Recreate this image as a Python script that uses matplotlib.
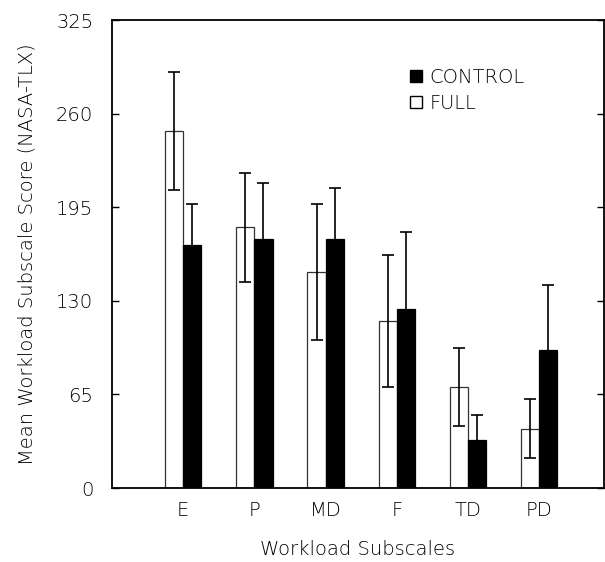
import matplotlib
matplotlib.use("Agg")
import matplotlib.pyplot as plt
import numpy as np
from matplotlib.patches import Patch

plt.rcParams['font.family'] = ['DejaVu Sans']

categories = ["E", "P", "MD", "F", "TD", "PD"]
full_mean = [248, 181, 150, 116, 70, 41]
full_err = [41, 38, 47, 46, 27, 20.5]
control_mean = [169, 173, 173, 124, 33.5, 96]
control_err = [28.5, 38.5, 35, 54, 17, 45]
yticks = [0, 65, 130, 195, 260, 325]

fig = plt.figure(figsize=(6.05, 5.62), dpi=100)
ax = fig.add_axes([112/605, 74/562, 492/605, 468/562])

x = np.arange(len(categories))
w = 0.255
ekw = dict(elinewidth=1.2, capthick=1.2, ecolor='black')
ax.bar(x - w/2, full_mean, w, color='white', edgecolor='#333333', linewidth=0.9,
       yerr=full_err, capsize=4, error_kw=ekw, label='FULL', zorder=2)
ax.bar(x + w/2, control_mean, w, color='black', edgecolor='black', linewidth=0.9,
       yerr=control_err, capsize=4, error_kw=ekw, label='CONTROL', zorder=2)

ax.set_xlim(-1.0, 5.91)
ax.set_ylim(0, 325)
ax.set_yticks(yticks)
ax.set_xticks(x)
ax.set_xticklabels(categories)
ax.tick_params(axis='both', direction='in', length=5, width=1, labelsize=14,
               right=True, top=False, bottom=False)
ax.tick_params(axis='y', pad=13.5)
ax.tick_params(axis='x', pad=9)
for lab in ax.get_xticklabels() + ax.get_yticklabels():
    lab.set_fontweight('light')
for s in ax.spines.values():
    s.set_linewidth(1.3)

ax.set_ylabel("Mean Workload Subscale Score (NASA-TLX)", fontsize=14,
              labelpad=14, fontweight='light')
ax.set_xlabel("Workload Subscales", fontsize=14, labelpad=15, fontweight='light')

handles = [Patch(facecolor='black', edgecolor='black'),
           Patch(facecolor='white', edgecolor='black')]
leg = ax.legend(handles, ['CONTROL', 'FULL'], loc='upper left',
          bbox_to_anchor=(0.57, 0.935), frameon=False, prop={'size': 14, 'weight': 'light'},
          handlelength=0.62, handleheight=0.62, handletextpad=0.4, labelspacing=0.35)

fig.savefig("out.png", dpi=100)
